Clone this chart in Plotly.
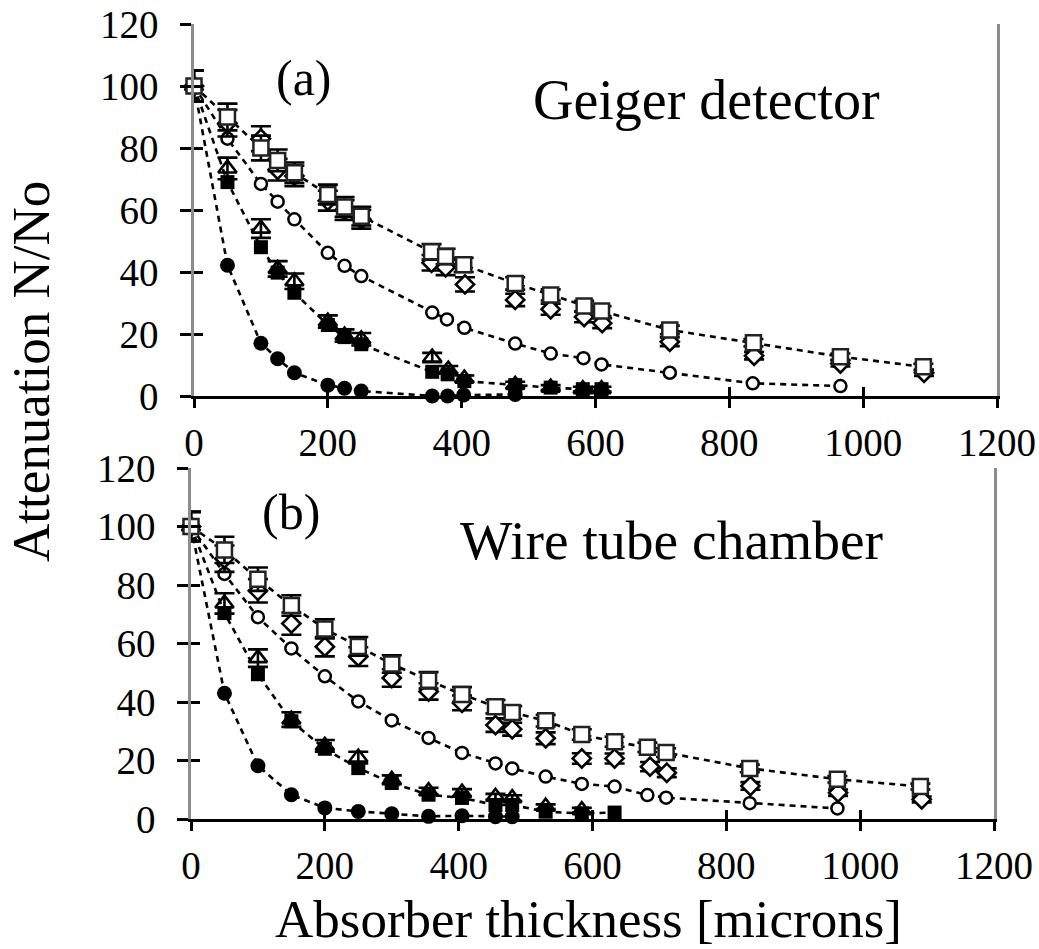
import plotly.graph_objects as go

# ---------------- Panel (a): Geiger detector ----------------
a_sq_x = [0, 50, 100, 125, 150, 200, 225, 250, 355, 376, 403, 480, 533, 583, 609, 711, 836, 966, 1090]
a_sq_y = [100, 90, 80, 76, 72, 65, 61, 58, 46.5, 45, 42.3, 36.3, 32.6, 29, 27.4, 21.3, 17.2, 12.7, 9.4]
a_sq_e = [5, 4.3, 4, 3.5, 3.3, 3.2, 3.2, 3, 2.5, 2.5, 2.3, 2, 1.8, 1.7, 1.6, 1.4, 1.2, 1, 1]

a_di_x = [0, 50, 100, 125, 150, 200, 225, 250, 355, 376, 405, 480, 533, 583, 610, 711, 837, 966, 1091]
a_di_y = [100, 88, 83, 73, 71, 63, 60, 57, 43, 41.5, 36, 31, 28, 25.5, 23.5, 17.5, 13, 10.5, 7.5]
a_di_e = [5, 4.3, 4, 3.5, 3.3, 3.2, 3.2, 3, 2.5, 2.5, 2.3, 2, 1.8, 1.7, 1.6, 1.4, 1.2, 1, 1]

a_ci_x = [0, 50, 100, 125, 150, 200, 225, 250, 356, 378, 404, 480, 533, 582, 609, 711, 835, 966]
a_ci_y = [100, 83, 68.4, 62.7, 57, 46.2, 42, 38.7, 26.9, 24.7, 22, 16.9, 13.7, 12.2, 10.2, 7.5, 4.1, 3.2]

a_tr_x = [0, 50, 100, 125, 150, 200, 225, 250, 356, 380, 404, 480, 533, 581, 609]
a_tr_y = [100, 73.4, 54, 41, 37, 24, 19.5, 18.3, 12.4, 8.5, 5.6, 3.6, 2.7, 2.2, 2.2]
a_tr_e = [5, 3.5, 3, 2.5, 2.5, 2, 2, 2, 1.5, 1.2, 1, 1, 0.8, 0.8, 0.8]

a_fs_x = [0, 50, 100, 125, 150, 200, 225, 250, 356, 379, 404, 480, 533, 581, 609]
a_fs_y = [100, 69, 48, 39.8, 33.3, 22.9, 19, 16.7, 7.8, 7, 4.8, 3.5, 2.7, 2.2, 2.2]

a_fc_x = [0, 50, 100, 125, 150, 200, 225, 250, 356, 379, 403, 480]
a_fc_y = [100, 42.2, 17, 12, 7.5, 3.5, 2.5, 1.6, 0, 0, 0.3, 0.5]

# ---------------- Panel (b): Wire tube chamber ----------------
b_sq_x = [0, 50, 100, 150, 200, 250, 300, 355, 405, 455, 480, 530, 584, 633, 682, 710, 835, 966, 1090]
b_sq_y = [100, 92, 82, 73, 65, 59, 53, 47.4, 42.6, 38.4, 36.4, 33.6, 28.9, 26.4, 24.5, 22.7, 17.3, 13.6, 11.1]
b_sq_e = [5, 4.5, 4, 3.5, 3.3, 3.2, 3, 2.8, 2.5, 2.3, 2.2, 2, 1.8, 1.7, 1.6, 1.5, 1.3, 1.1, 1]

b_di_x = [0, 50, 100, 150, 200, 250, 300, 355, 405, 455, 480, 530, 584, 633, 686, 711, 836, 967, 1092]
b_di_y = [100, 89, 78, 66.8, 58.9, 55.5, 48.2, 43.6, 39.7, 32.1, 30.7, 27.6, 20.7, 20.7, 17.9, 15.8, 11.3, 9, 6.7]
b_di_e = [5, 4.5, 4, 3.8, 3.3, 3.2, 3, 2.8, 2.5, 2.3, 2.2, 2, 1.8, 1.7, 1.6, 1.5, 1.3, 1.1, 1]

b_ci_x = [0, 50, 100, 150, 200, 250, 300, 355, 405, 455, 480, 530, 584, 633, 682, 710, 835, 966]
b_ci_y = [100, 83.8, 69, 58.3, 48.8, 40.2, 33.7, 27.7, 22.6, 19, 17.3, 14.5, 12, 11.1, 8.2, 7.3, 5.4, 3.6]

b_tr_x = [0, 50, 100, 150, 200, 250, 300, 355, 405, 455, 480, 530, 584]
b_tr_y = [100, 73.7, 55, 34, 25, 21, 13.4, 9.5, 9, 7.6, 7.1, 4.2, 3]
b_tr_e = [5, 3.5, 3, 2.5, 2, 2, 1.5, 1.2, 1.2, 1, 1, 0.8, 0.8]

b_fs_x = [0, 50, 100, 150, 200, 250, 300, 355, 405, 455, 480, 530, 584, 633]
b_fs_y = [100, 70.4, 49.5, 33.4, 24, 17.4, 12.3, 8.3, 7.2, 4.8, 4.8, 2.5, 1.9, 2.2]

b_fc_x = [0, 50, 100, 150, 200, 250, 300, 355, 405, 455, 480]
b_fc_y = [100, 43, 18.2, 8.3, 3.8, 2.6, 1.8, 0.9, 1.1, 0.8, 0.8]

x_ticks = [0, 200, 400, 600, 800, 1000, 1200]
y_ticks = [0, 20, 40, 60, 80, 100, 120]

FONT = "Liberation Serif"
BLACK = "#000000"
GREY = "#8c8c8c"

fig = go.Figure()

DASH = "6px,5px"


def add_panel(xa, ya, sq, di, ci, tr, fs, fc):
    # dashed trend lines (under the markers)
    for xs, ys in [(sq[0], sq[1]), (ci[0], ci[1]), (fs[0], fs[1]), (fc[0], fc[1])]:
        fig.add_trace(go.Scatter(x=xs, y=ys, mode="lines", xaxis=xa, yaxis=ya,
                                 line=dict(color=BLACK, width=2.6, dash=DASH),
                                 showlegend=False, hoverinfo="skip", cliponaxis=False))
    err = lambda e: dict(type="data", array=e, visible=True, color=BLACK, thickness=2.6, width=10)
    fig.add_trace(go.Scatter(x=tr[0], y=tr[1], mode="markers", xaxis=xa, yaxis=ya,
                             error_y=err(tr[2]),
                             marker=dict(symbol="triangle-up-open", size=16, color=BLACK, line=dict(width=2.6)),
                             showlegend=False, cliponaxis=False))
    fig.add_trace(go.Scatter(x=fs[0], y=fs[1], mode="markers", xaxis=xa, yaxis=ya,
                             marker=dict(symbol="square", size=14, color=BLACK),
                             showlegend=False, cliponaxis=False))
    fig.add_trace(go.Scatter(x=fc[0], y=fc[1], mode="markers", xaxis=xa, yaxis=ya,
                             marker=dict(symbol="circle", size=15, color=BLACK),
                             showlegend=False, cliponaxis=False))
    fig.add_trace(go.Scatter(x=ci[0], y=ci[1], mode="markers", xaxis=xa, yaxis=ya,
                             marker=dict(symbol="circle", size=12, color="white", line=dict(color=BLACK, width=2.5)),
                             showlegend=False, cliponaxis=False))
    fig.add_trace(go.Scatter(x=di[0], y=di[1], mode="markers", xaxis=xa, yaxis=ya,
                             error_y=err(di[2]),
                             marker=dict(symbol="diamond", size=14, color="white", line=dict(color=BLACK, width=2.6)),
                             showlegend=False, cliponaxis=False))
    fig.add_trace(go.Scatter(x=sq[0], y=sq[1], mode="markers", xaxis=xa, yaxis=ya,
                             error_y=err(sq[2]),
                             marker=dict(symbol="square", size=15, color="white", line=dict(color="#222222", width=2.5)),
                             showlegend=False, cliponaxis=False))


add_panel("x", "y", (a_sq_x, a_sq_y, a_sq_e), (a_di_x, a_di_y, a_di_e), (a_ci_x, a_ci_y),
          (a_tr_x, a_tr_y, a_tr_e), (a_fs_x, a_fs_y), (a_fc_x, a_fc_y))
add_panel("x2", "y2", (b_sq_x, b_sq_y, b_sq_e), (b_di_x, b_di_y, b_di_e), (b_ci_x, b_ci_y),
          (b_tr_x, b_tr_y, b_tr_e), (b_fs_x, b_fs_y), (b_fc_x, b_fc_y))

W, H = 1039, 949


def px_x(p):
    return p / W


def px_y(p):
    return 1 - p / H


tickfont = dict(family=FONT, size=39, color=BLACK)

panels = {
    "a": dict(x0=194, x1=997, y0=24, y1=396),
    "b": dict(x0=191, x1=994, y0=468, y1=819),
}


def xaxis_main(p, anchor):
    return dict(domain=[px_x(p["x0"]), px_x(p["x1"])], range=[0, 1200], tickvals=x_ticks,
                ticktext=[str(v) for v in x_ticks], anchor=anchor, automargin=False,
                showline=True, linecolor=BLACK, linewidth=3, ticks="outside", ticklen=9,
                tickwidth=3, tickcolor=BLACK, tickfont=tickfont, showgrid=False, zeroline=False,
                ticklabelstandoff=1, fixedrange=True)


def yaxis_main(p, anchor):
    return dict(domain=[px_y(p["y1"]), px_y(p["y0"])], range=[0, 120], tickvals=y_ticks,
                ticktext=[str(v) for v in y_ticks], anchor=anchor, automargin=False,
                showline=True, linecolor=GREY, linewidth=2.5, mirror=True, ticks="outside", ticklen=11,
                tickwidth=3, tickcolor=BLACK, tickfont=tickfont, showgrid=False, zeroline=False,
                ticklabelstandoff=14, fixedrange=True)


def overlay(kind, over, anchor, rng, vals):
    d = dict(overlaying=over, anchor=anchor, range=rng, tickvals=vals, automargin=False,
             ticks="inside", ticklen=9, tickwidth=3, tickcolor=BLACK, showticklabels=False,
             showline=False, showgrid=False, zeroline=False, fixedrange=True)
    d["side"] = "bottom" if kind == "x" else "left"
    return d


fig.update_layout(
    width=W, height=H, margin=dict(l=0, r=0, t=0, b=0, autoexpand=False),
    paper_bgcolor="white", plot_bgcolor="white", showlegend=False,
    xaxis=xaxis_main(panels["a"], "y"),
    yaxis=yaxis_main(panels["a"], "x"),
    xaxis2=xaxis_main(panels["b"], "y2"),
    yaxis2=yaxis_main(panels["b"], "x2"),
    # overlay axes providing the inner half of the crossing tick marks
    xaxis3=overlay("x", "x", "y", [0, 1200], x_ticks),
    yaxis3=overlay("y", "y", "x", [0, 120], y_ticks),
    xaxis4=overlay("x", "x2", "y2", [0, 1200], x_ticks),
    yaxis4=overlay("y", "y2", "x2", [0, 120], y_ticks),
)

# invisible traces so the overlay axes are rendered
fig.add_trace(go.Scatter(x=[0], y=[0], xaxis="x3", yaxis="y3", mode="markers",
                         marker=dict(opacity=0), showlegend=False, hoverinfo="skip"))
fig.add_trace(go.Scatter(x=[0], y=[0], xaxis="x4", yaxis="y4", mode="markers",
                         marker=dict(opacity=0), showlegend=False, hoverinfo="skip"))

ann_font = dict(family=FONT, color=BLACK)
fig.add_annotation(x=px_x(304), y=px_y(78), xref="paper", yref="paper", text="(a)", showarrow=False,
                   font=dict(size=50, **ann_font), xanchor="center", yanchor="middle")
fig.add_annotation(x=px_x(706), y=px_y(100), xref="paper", yref="paper", text="Geiger detector",
                   showarrow=False, font=dict(size=56, **ann_font), xanchor="center", yanchor="middle")
fig.add_annotation(x=px_x(291), y=px_y(512), xref="paper", yref="paper", text="(b)", showarrow=False,
                   font=dict(size=50, **ann_font), xanchor="center", yanchor="middle")
fig.add_annotation(x=px_x(671), y=px_y(540), xref="paper", yref="paper", text="Wire tube chamber",
                   showarrow=False, font=dict(size=55.5, **ann_font), xanchor="center", yanchor="middle")
fig.add_annotation(x=px_x(588), y=px_y(919), xref="paper", yref="paper",
                   text="Absorber thickness [microns]", showarrow=False,
                   font=dict(size=53, **ann_font), xanchor="center", yanchor="middle")
fig.add_annotation(x=px_x(31), y=px_y(372), xref="paper", yref="paper", text="Attenuation N/No",
                   showarrow=False, textangle=-90, font=dict(size=53, **ann_font),
                   xanchor="center", yanchor="middle")

fig.write_html("out.html")
